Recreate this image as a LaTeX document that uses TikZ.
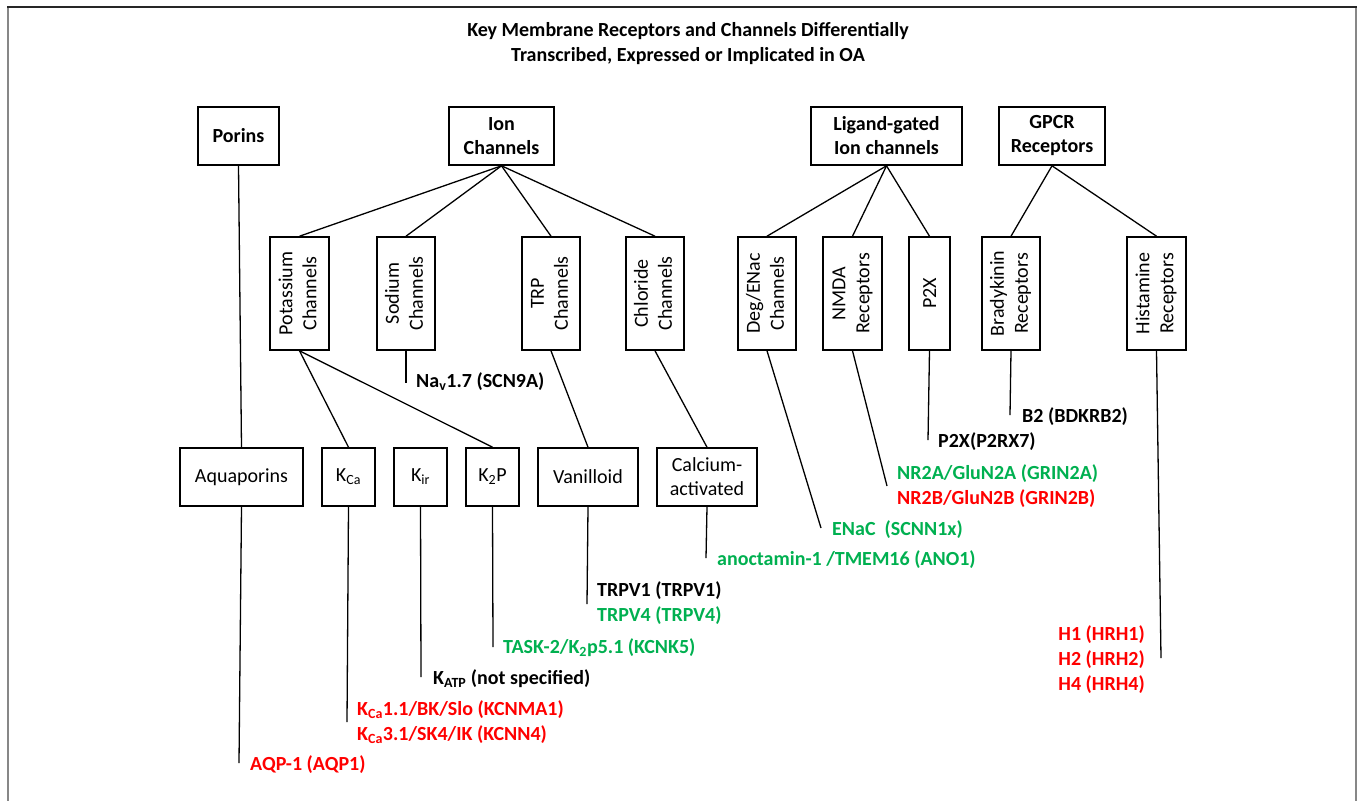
\documentclass[tikz,border=0pt]{standalone}
\usepackage{fontspec}
\setmainfont{Carlito}
\usepackage{graphicx}
\definecolor{oared}{RGB}{255,0,0}
\definecolor{oagreen}{RGB}{0,176,80}
\definecolor{framegray}{RGB}{135,135,135}
\newcommand{\vtext}[2]{\rotatebox{90}{\begin{tabular}{@{}c@{}}#1\\#2\end{tabular}}}

\begin{document}
\begin{tikzpicture}[x=1pt,y=-1pt]
\tikzstyle{every node}+=[inner sep=0pt]
\tikzstyle{topbox}=[draw, line width=1.6pt, minimum height=58pt, align=center, font=\fontsize{20}{24}\selectfont\bfseries]
\tikzstyle{upbox}=[draw, line width=1.6pt, minimum height=113pt, font=\fontsize{20}{24}\selectfont]
\tikzstyle{lowbox}=[draw, line width=1.6pt, minimum height=58pt, align=center, font=\fontsize{20}{24}\selectfont]
\tikzstyle{gene}=[anchor=west, align=left, font=\fontsize{20}{25}\selectfont\bfseries]
\tikzstyle{link}=[black, line width=1.3pt]
\useasboundingbox (0,0) rectangle (1357,801);
% frame
\draw [framegray, line width=2pt] (8,7) -- (8,801);
\draw [framegray, line width=2pt] (1356,7) -- (1356,801);
\draw [black!85, line width=2pt] (7,7) -- (1357,7);
\node (title) [align=center, font=\fontsize{20}{25}\selectfont\bfseries] at (688,43.5)
  {Key Membrane Receptors and Channels Differentially\\Transcribed, Expressed or Implicated in OA};
% families
\node (porins) [topbox, minimum width=81pt] at (238.5,136) {Porins};
\node (ion) [topbox, minimum width=105pt] at (501.5,136) {Ion\\Channels};
\node (ligand) [topbox, minimum width=151pt] at (886.5,136) {Ligand-gated\\Ion channels};
\node (gpcr) [topbox, minimum width=106pt] at (1052,136) {GPCR\\Receptors};
% subfamilies
\node (potassium) [upbox, minimum width=59pt] at (299.5,293.5) {\vtext{Potassium}{Channels}};
\node (sodium) [upbox, minimum width=58pt] at (406,293.5) {\vtext{Sodium}{Channels}};
\node (trp) [upbox, minimum width=58pt] at (551,293.5) {\vtext{TRP}{Channels}};
\node (chloride) [upbox, minimum width=58pt] at (655,293.5) {\vtext{Chloride}{Channels}};
\node (degenac) [upbox, minimum width=58pt] at (767,293.5) {\vtext{Deg/ENac}{Channels}};
\node (nmda) [upbox, minimum width=59pt] at (852.5,293.5) {\vtext{NMDA}{Receptors}};
\node (ptwox) [upbox, minimum width=41pt] at (929.5,293.5) {\rotatebox{90}{P2X}};
\node (bradykinin) [upbox, minimum width=58pt] at (1011,293.5) {\vtext{Bradykinin}{Receptors}};
\node (histamine) [upbox, minimum width=59pt] at (1156.5,293.5) {\vtext{Histamine}{Receptors}};
% types
\node (aquaporins) [lowbox, minimum width=123pt] at (241.5,477) {Aquaporins};
\node (kca) [lowbox, minimum width=53pt] at (348.5,477) {K\textsubscript{Ca}};
\node (kir) [lowbox, minimum width=53pt] at (420.5,477) {K\textsubscript{ir}};
\node (ktwop) [lowbox, minimum width=53pt] at (492.5,477) {K\textsubscript{2}P};
\node (vanilloid) [lowbox, minimum width=100pt] at (588,477) {Vanilloid};
\node (calcium) [lowbox, minimum width=100pt] at (707,477) {Calcium-\\activated};
% tree
\draw [link] (ion.south) -- (potassium.north);
\draw [link] (ion.south) -- (sodium.north);
\draw [link] (ion.south) -- (trp.north);
\draw [link] (ion.south) -- (chloride.north);
\draw [link] (ligand.south) -- (degenac.north);
\draw [link] (ligand.south) -- (nmda.north);
\draw [link] (ligand.south) -- (ptwox.north);
\draw [link] (gpcr.south) -- (bradykinin.north);
\draw [link] (gpcr.south) -- (histamine.north);
\draw [link] (porins.south) -- (aquaporins.north);
\draw [link] (potassium.south) -- (kca.north);
\draw [link] (potassium.south) -- (ktwop.north);
\draw [link] (trp.south) -- (vanilloid.north);
\draw [link] (chloride.south) -- (calcium.north);
% genes
\coordinate (navend) at (406,383);
\coordinate (aqpend) at (239,763);
\coordinate (kcaend) at (347,722);
\coordinate (katpend) at (421,677);
\coordinate (taskend) at (493,647);
\coordinate (trpvend) at (587,604);
\coordinate (anoend) at (706,558);
\coordinate (enacend) at (821,528);
\coordinate (nmdaend) at (887,486);
\coordinate (p2rxend) at (928,440);
\coordinate (btwoend) at (1010,415);
\coordinate (hrhend) at (1161,658);
\draw [link] (sodium.south) -- (navend);
\draw [link] (aquaporins.south) -- (aqpend);
\draw [link] (kca.south) -- (kcaend);
\draw [link] (kir.south) -- (katpend);
\draw [link] (ktwop.south) -- (taskend);
\draw [link] (vanilloid.south) -- (trpvend);
\draw [link] (calcium.south) -- (anoend);
\draw [link] (degenac.south) -- (enacend);
\draw [link] (nmda.south) -- (nmdaend);
\draw [link] (ptwox.south) -- (p2rxend);
\draw [link] (bradykinin.south) -- (btwoend);
\draw [link] (histamine.south) -- (hrhend);
\node (nav) [gene] at (416,382) {Na\textsubscript{v}1.7 (SCN9A)};
\node (aqp) [gene, text=oared] at (250,765) {AQP-1 (AQP1)};
\node (kcnm) [gene, text=oared] at (357,722.5) {K\textsubscript{Ca}1.1/BK/Slo (KCNMA1)\\K\textsubscript{Ca}3.1/SK4/IK (KCNN4)};
\node (katp) [gene] at (433,679) {K\textsubscript{ATP} (not specified)};
\node (task) [gene, text=oagreen] at (503,648) {TASK-2/K\textsubscript{2}p5.1 (KCNK5)};
\node (trpv) [gene] at (597,603) {TRPV1 (TRPV1)\\{\color{oagreen}TRPV4 (TRPV4)}};
\node (ano) [gene, text=oagreen] at (717,560) {anoctamin-1 /TMEM16 (ANO1)};
\node (enac) [gene, text=oagreen] at (832,530) {ENaC\ \ (SCNN1x)};
\node (grin) [gene] at (897,486.5) {{\color{oagreen}NR2A/GluN2A (GRIN2A)}\\{\color{oared}NR2B/GluN2B (GRIN2B)}};
\node (p2rx) [gene] at (938,442) {P2X(P2RX7)};
\node (btwo) [gene] at (1022,417) {B2 (BDKRB2)};
\node (hrh) [gene, anchor=east, align=right, text=oared] at (1145,659.5) {H1 (HRH1)\\H2 (HRH2)\\H4 (HRH4)};
\end{tikzpicture}
\end{document}
